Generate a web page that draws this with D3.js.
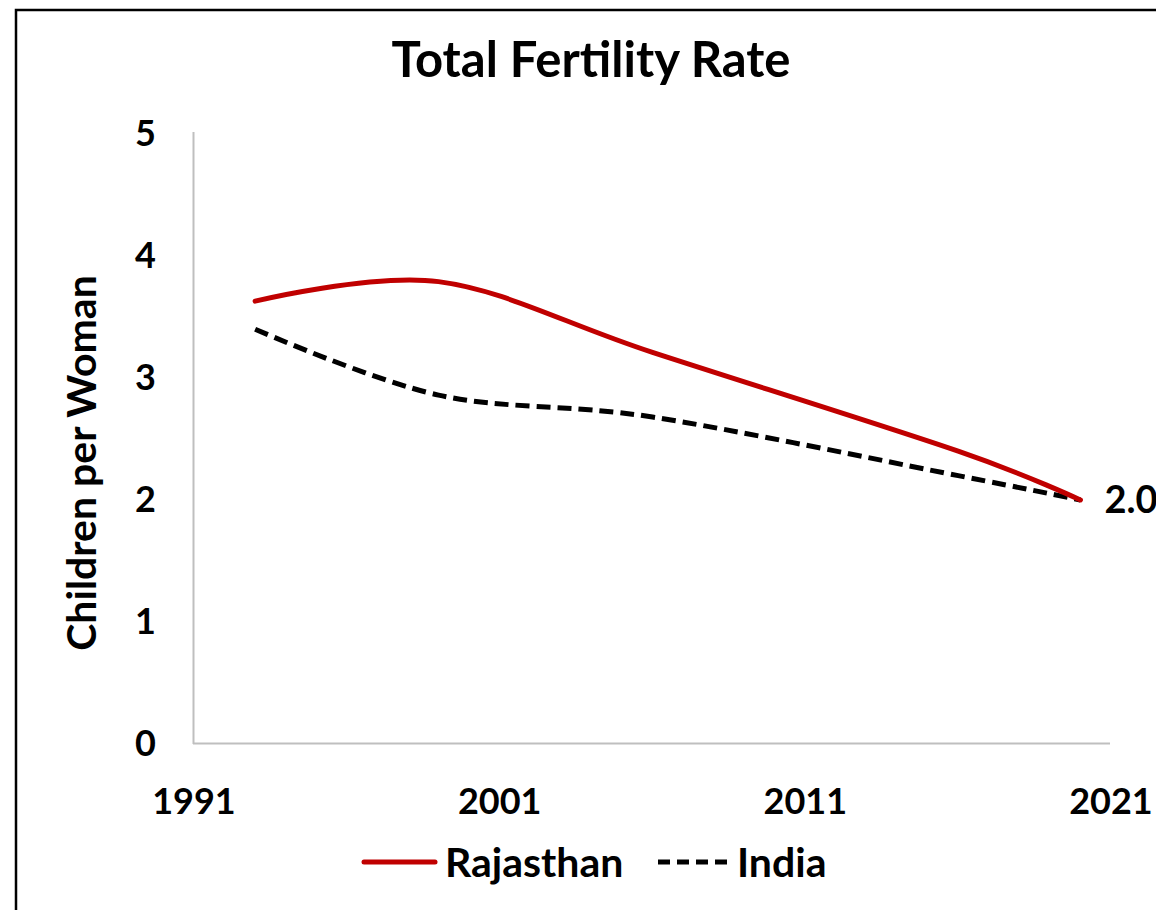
<!DOCTYPE html>
<html>
<head>
<meta charset="utf-8">
<script src="https://cdn.jsdelivr.net/npm/d3@7"></script>
<style>
  html, body { margin: 0; padding: 0; background: #fff; }
  svg text { font-family: Lato, "Open Sans", sans-serif; font-weight: bold; fill: #000; }
</style>
</head>
<body>
<svg id="chart" width="1156" height="910"></svg>
<script>
const years = [1993, 1999, 2006, 2016, 2020];
const rajasthan = [3.63, 3.79, 3.21, 2.40, 2.0];
const india = [3.40, 2.86, 2.68, 2.20, 2.0];
const xTicks = [1991, 2001, 2011, 2021];
const yTicks = [0, 1, 2, 3, 4, 5];
const seriesNames = ["Rajasthan", "India"];
const endLabel = "2.0";

const svg = d3.select("#chart");
const x = d3.scaleLinear().domain([1991, 2021]).range([194, 1111]);
const y = d3.scaleLinear().domain([0, 5]).range([744, 134]);

// outer frame
svg.append("rect").attr("x", 16).attr("y", 10).attr("width", 1160).attr("height", 920)
  .attr("fill", "none").attr("stroke", "#000").attr("stroke-width", 2.5);

// title
svg.append("text").attr("x", 591).attr("y", 77).attr("text-anchor", "middle")
  .style("font-size", "49px").text("Total Fertility Rate");

// axes lines
svg.append("line").attr("x1", 193.5).attr("x2", 193.5).attr("y1", 132).attr("y2", y(0))
  .attr("stroke", "#BFBFBF").attr("stroke-width", 2);
svg.append("line").attr("x1", 193).attr("x2", 1110).attr("y1", y(0) - 0.5).attr("y2", y(0) - 0.5)
  .attr("stroke", "#BFBFBF").attr("stroke-width", 2);

// y tick labels
svg.append("g").selectAll("text").data(yTicks).join("text")
  .attr("x", 156).attr("y", d => y(d) + 12).attr("text-anchor", "end")
  .style("font-size", "36px").text(d => d);

// x tick labels
svg.append("g").selectAll("text").data(xTicks).join("text")
  .attr("x", d => x(d)).attr("y", 814).attr("text-anchor", "middle")
  .style("font-size", "36px").text(d => d);

// y axis title
svg.append("text").attr("transform", "translate(96,463) rotate(-90)")
  .attr("text-anchor", "middle").style("font-size", "41px").text("Children per Woman");

const line = d3.line().x(d => x(d[0])).y(d => y(d[1])).curve(d3.curveCardinal.tension(0));

svg.append("path").datum(years.map((yr, i) => [yr, india[i]]))
  .attr("d", line).attr("fill", "none").attr("stroke", "#000")
  .attr("stroke-width", 5).attr("stroke-dasharray", "14,7");

svg.append("path").datum(years.map((yr, i) => [yr, rajasthan[i]]))
  .attr("d", line).attr("fill", "none").attr("stroke", "#C00000")
  .attr("stroke-width", 5).attr("stroke-linecap", "round");

// end label
svg.append("text").attr("x", x(years[years.length - 1]) + 24).attr("y", y(india[india.length - 1]) + 13)
  .style("font-size", "38px").text(endLabel);

// legend
const lg = svg.append("g");
lg.append("line").attr("x1", 364).attr("x2", 435).attr("y1", 862).attr("y2", 862)
  .attr("stroke", "#C00000").attr("stroke-width", 5).attr("stroke-linecap", "round");
lg.append("text").attr("x", 445).attr("y", 877).style("font-size", "41px").text(seriesNames[0]);
lg.append("line").attr("x1", 658).attr("x2", 728).attr("y1", 862).attr("y2", 862)
  .attr("stroke", "#000").attr("stroke-width", 5).attr("stroke-dasharray", "12,7");
lg.append("text").attr("x", 737).attr("y", 877).style("font-size", "41px").text(seriesNames[1]);
</script>
</body>
</html>
